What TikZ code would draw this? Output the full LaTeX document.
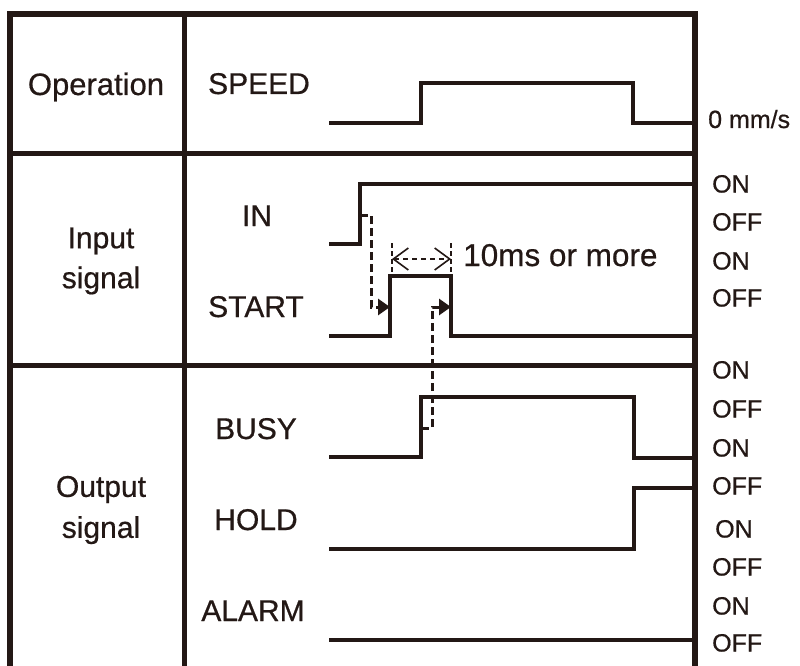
\documentclass[tikz,border=0pt]{standalone}
\usepackage{fontspec}
\setmainfont[FakeBold=0.6]{Liberation Sans}
\usepackage{xcolor}
\usetikzlibrary{positioning,arrows.meta}
\definecolor{ink}{RGB}{35,24,21}

\begin{document}
\begin{tikzpicture}[x=1pt, y=-1pt, color=ink,
    frame/.style={line width=5.5pt, line join=miter},
    divider/.style={line width=5pt},
    wave/.style={line width=3.3pt, line join=miter},
    cause/.style={-{Triangle[length=12pt, width=16pt]}, line width=3pt,
                  dash pattern=on 8pt off 4pt},
    dimline/.style={{Straight Barb[length=15pt, width=22pt]}-{Straight Barb[length=15pt, width=22pt]},
                    line width=1.6pt, dash pattern=on 5pt off 4pt},
    dimtick/.style={line width=1.6pt, dash pattern=on 5pt off 3pt},
    group/.style={font=\fontsize{30}{40}\selectfont, align=center, inner sep=0pt},
    sig/.style={font=\fontsize{30}{34}\selectfont, anchor=base, inner sep=0pt},
    state/.style={font=\fontsize{25}{30}\selectfont, anchor=base west, inner sep=0pt}
]
\useasboundingbox (0,0) rectangle (800,666);

% --- table frame ---
\draw[frame] (10,666) -- (10,14) -- (695,14) -- (695,666);
\draw[frame] (184.5,14) -- (184.5,666);
\draw[divider] (10,153) -- (695,153);
\draw[divider] (10,365) -- (695,365);

% --- group and signal names ---
\node[sig, font=\fontsize{31}{34}\selectfont] (lbl-op) at (96,95) {Operation};
\node[group] (lbl-input) at (101,261) {Input\\signal};
\node[group, font=\fontsize{30}{41}\selectfont] (lbl-output) at (101,510) {Output\\signal};

\node[sig] (lbl-speed) at (259,94)  {SPEED};
\node[sig] (lbl-in)    at (257,226) {IN};
\node[sig] (lbl-start) at (256,317) {START};
\node[sig] (lbl-busy)  at (256,439) {BUSY};
\node[sig] (lbl-hold)  at (256,530) {HOLD};
\node[sig] (lbl-alarm) at (253,621) {ALARM};

% --- waveforms ---
\draw[wave] (329,123) -- (421,123) -- (421,83) -- (633,83) -- (633,123) -- (695,123);
\draw[wave] (329,244) -- (360,244) -- (360,184) -- (695,184);
\draw[wave] (329,336) -- (390,336) -- (390,276) -- (451,276) -- (451,336) -- (695,336);
\draw[wave] (329,457) -- (421,457) -- (421,397) -- (634,397) -- (634,458) -- (695,458);
\draw[wave] (329,549) -- (634,549) -- (634,488) -- (695,488);
\draw[wave] (329,640) -- (695,640);

% --- edges that trigger each other ---
\coordinate (in-edge)    at (360,215);
\coordinate (start-rise) at (390,307);
\coordinate (busy-edge)  at (421,428);
\coordinate (start-fall) at (451,307);

\draw[cause] (in-edge) -- ++(11,0) |- (start-rise);
\draw[cause] (busy-edge) -- ++(11,0) |- (start-fall);

% --- minimum pulse width ---
\coordinate (dim-l) at (392,259);
\coordinate (dim-r) at (451,259);
\draw[dimtick] (392,243) -- (392,276);
\draw[dimtick] (451,243) -- (451,276);
\draw[dimline] (dim-l) -- (dim-r);
\node[state, font=\fontsize{31.5}{36}\selectfont] (lbl-width) at (463,266) {10ms or more};

% --- levels on the right ---
\node[state] (lv-speed) at (708,128) {0 mm/s};
\node[state] (lv-in-on)     at (712,192.5) {ON};
\node[state] (lv-in-off)    at (712,230.5) {OFF};
\node[state] (lv-start-on)  at (712,269.5) {ON};
\node[state] (lv-start-off) at (712,306.5) {OFF};
\node[state] (lv-busy-on)   at (712,378.5) {ON};
\node[state] (lv-busy-off)  at (712,417.5) {OFF};
\node[state] (lv-hold-on)   at (712,456.5) {ON};
\node[state] (lv-hold-off)  at (712,494.5) {OFF};
\node[state] (lv-alarm-on)  at (715,537.5) {ON};
\node[state] (lv-alarm-off) at (712,575.5) {OFF};
\node[state] (lv-x-on)      at (712,614.5) {ON};
\node[state] (lv-x-off)     at (712,651.5) {OFF};

\end{tikzpicture}
\end{document}
